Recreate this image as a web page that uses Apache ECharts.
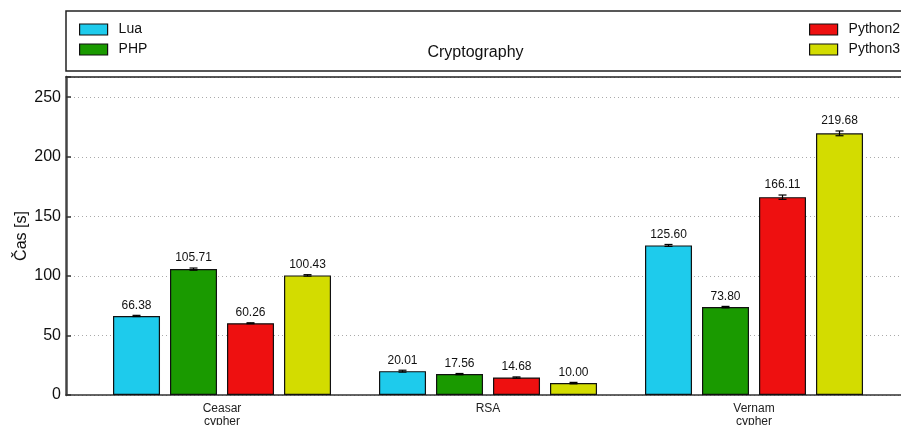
<!DOCTYPE html>
<html>
<head>
<meta charset="utf-8">
<script src="https://cdn.jsdelivr.net/npm/echarts@6/dist/echarts.min.js"></script>
<style>html,body{margin:0;padding:0;background:#fff;}#c{width:901px;height:425px;}</style>
</head>
<body>
<div id="c"></div>
<script>
// ---- data ----
const categories = ['Ceasar\ncypher', 'RSA', 'Vernam\ncypher'];
const seriesNames = ['Lua', 'PHP', 'Python2', 'Python3'];
const luaValues = [66.38, 20.01, 125.60];
const phpValues = [105.71, 17.56, 73.80];
const python2Values = [60.26, 14.68, 166.11];
const python3Values = [100.43, 10.00, 219.68];
const luaErrors = [0.5, 0.8, 0.8];
const phpErrors = [0.9, 0.5, 0.6];
const python2Errors = [0.4, 0.5, 1.8];
const python3Errors = [0.6, 0.6, 2.0];
const yTicks = [0, 50, 100, 150, 200, 250];
const title = 'Cryptography';
const yName = 'Čas [s]';

// ---- style / layout ----
const FONT = '"Liberation Sans", Arial, sans-serif';
const colors = ['#1ecbec', '#1a9a00', '#ee1010', '#d3dc00'];
const BAR_W = 47;
const BAR_GAP_PX = 10;
const valuesList = [luaValues, phpValues, python2Values, python3Values];
const errorsList = [luaErrors, phpErrors, python2Errors, python3Errors];

const chart = echarts.init(document.getElementById('c'), null, {renderer: 'canvas'});

const series = [];
seriesNames.forEach((name, k) => {
  series.push({
    name: name,
    type: 'bar',
    barWidth: BAR_W,
    barGap: (BAR_GAP_PX / BAR_W * 100) + '%',
    data: valuesList[k].map((v, i) => [i, v]),
    itemStyle: {color: colors[k], borderColor: '#111', borderWidth: 1.2},
    emphasis: {disabled: true},
    z: 2
  });
});
seriesNames.forEach((name, k) => {
  series.push({
    name: name + '_err',
    type: 'custom',
    data: valuesList[k].map((v, i) => [i, v, errorsList[k][i]]),
    z: 5,
    silent: true,
    renderItem: function (params, api) {
      const x = api.value(0), v = api.value(1), e = api.value(2);
      const off = (k - 1.5) * (BAR_W + BAR_GAP_PX);
      const pTop = api.coord([x, v + e]);
      const pBot = api.coord([x, v - e]);
      const cx = pTop[0] + off;
      const cap = 4;
      const st = {stroke: '#000', lineWidth: 1.2};
      return {
        type: 'group',
        children: [
          {type: 'line', shape: {x1: cx, y1: pTop[1], x2: cx, y2: pBot[1]}, style: st},
          {type: 'line', shape: {x1: cx - cap, y1: pTop[1], x2: cx + cap, y2: pTop[1]}, style: st},
          {type: 'line', shape: {x1: cx - cap, y1: pBot[1], x2: cx + cap, y2: pBot[1]}, style: st},
          {type: 'text', x: cx, y: pTop[1] - 4, style: {
            text: v.toFixed(2), fill: '#111', font: '12px ' + FONT,
            align: 'center', verticalAlign: 'bottom'}}
        ]
      };
    }
  });
});

const legendCommon = {
  orient: 'vertical', top: 22.5, padding: 0, itemWidth: 28, itemHeight: 11, itemGap: 6,
  icon: 'rect',
  itemStyle: {borderColor: '#111', borderWidth: 1.2},
  textStyle: {fontFamily: FONT, fontSize: 14, lineHeight: 14, color: '#111', padding: [0, 0, 0, 6]},
  selectedMode: false
};

const option = {
  animation: false,
  color: colors,
  textStyle: {fontFamily: FONT},
  title: {
    text: title, left: 475.5, textAlign: 'center', top: 45, padding: 0,
    textStyle: {fontFamily: FONT, fontSize: 16, fontWeight: 'normal', color: '#111'}
  },
  legend: [
    Object.assign({}, legendCommon, {data: seriesNames.slice(0, 2), left: 79}),
    Object.assign({}, legendCommon, {data: seriesNames.slice(2, 4), left: 809})
  ],
  graphic: [{
    type: 'rect', z: -1,
    shape: {x: 66, y: 11, width: 900, height: 60},
    style: {fill: 'none', stroke: '#222', lineWidth: 1.5}
  }],
  grid: {
    left: 66, top: 77, right: 0, bottom: 30, show: false,
    outerBoundsMode: 'none', containLabel: false
  },
  xAxis: [{
    type: 'value', min: -0.5865, max: 2.5526,
    axisLine: {show: true, onZero: false, lineStyle: {color: '#333', width: 1.5}},
    axisTick: {show: false},
    splitLine: {show: false},
    axisLabel: {
      customValues: [0, 1, 2],
      formatter: function (v) { return categories[Math.round(v)]; },
      fontFamily: FONT, fontSize: 12, lineHeight: 13, color: '#222', margin: 7
    }
  }, {
    type: 'value', position: 'top', min: -0.5865, max: 2.5526,
    axisLine: {show: true, onZero: false, lineStyle: {color: '#222', width: 1.5}},
    axisTick: {show: false}, axisLabel: {show: false}, splitLine: {show: false}
  }],
  yAxis: {
    type: 'value', min: 0, max: 267, interval: 50,
    name: yName, nameLocation: 'middle', nameGap: 36, nameRotate: 90, nameMoveOverlap: false,
    nameTextStyle: {fontFamily: FONT, fontSize: 16, color: '#111'},
    axisLine: {show: true, onZero: false, lineStyle: {color: '#444', width: 2.5}},
    axisTick: {show: true, inside: true, length: 5, lineStyle: {color: '#333', width: 1.5}},
    axisLabel: {
      customValues: yTicks,
      fontFamily: FONT, fontSize: 16, color: '#111', margin: 5
    },
    splitLine: {show: true, lineStyle: {color: '#aaa', width: 1, type: [1, 3]}}
  },
  series: series
};
chart.setOption(option);
</script>
</body>
</html>
